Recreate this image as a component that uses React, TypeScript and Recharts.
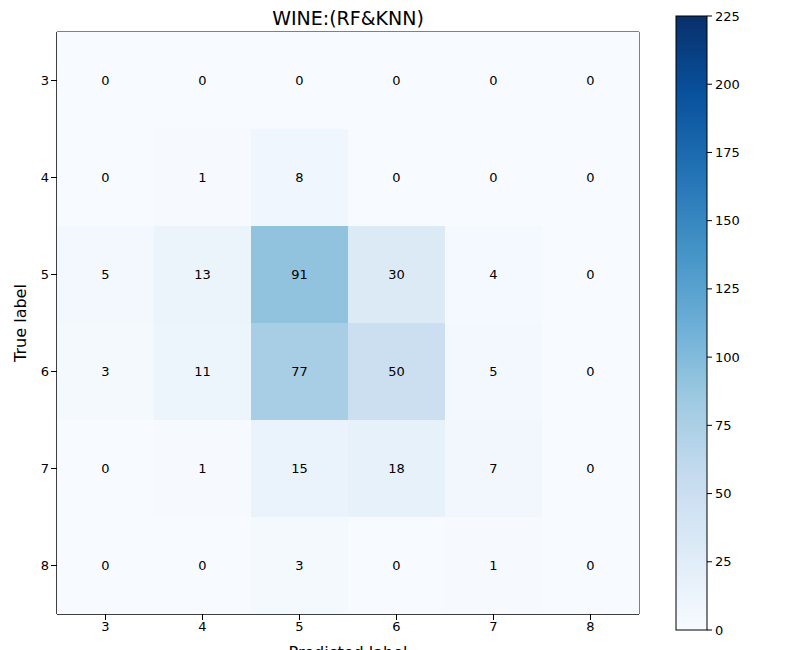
import React from 'react';
import { ScatterChart, Scatter, XAxis, YAxis, ReferenceArea } from 'recharts';

const labels = [3, 4, 5, 6, 7, 8];
const matrix = [
  [0, 0, 0, 0, 0, 0],
  [0, 1, 8, 0, 0, 0],
  [5, 13, 91, 30, 4, 0],
  [3, 11, 77, 50, 5, 0],
  [0, 1, 15, 18, 7, 0],
  [0, 0, 3, 0, 1, 0],
];
const vmax = 225;
const cbTicks = [0, 25, 50, 75, 100, 125, 150, 175, 200, 225];

const stops = ['#f7fbff', '#deebf7', '#c6dbef', '#9ecae1', '#6baed6', '#4292c6', '#2171b5', '#08519c', '#08306b'];
function hex(h: string) { return [1, 3, 5].map(i => parseInt(h.substr(i, 2), 16)); }
function blues(t: number) {
  t = Math.max(0, Math.min(1, t));
  const p = t * 8; const i = Math.min(7, Math.floor(p)); const f = p - i;
  const a = hex(stops[i]), b = hex(stops[i + 1]);
  return `rgb(${a.map((v, k) => Math.round(v + (b[k] - v) * f)).join(',')})`;
}

const data = matrix.flatMap((row, r) => row.map((v, c) => ({ x: labels[c], y: labels[r], v })));

const W = 792, H = 642;
const M = { top: 24, right: 161, bottom: 6, left: 19 };
const YW = 30, XH = 30;
const plotW = W - M.left - M.right - YW;
const plotH = H - M.top - M.bottom - XH;
const cw = plotW / labels.length, ch = plotH / labels.length;

const Cell = (p: any) => (
  <g>
    <rect x={p.cx - cw / 2} y={p.cy - ch / 2} width={cw} height={ch} fill={blues(p.payload.v / vmax)} />
    <text x={p.cx} y={p.cy} textAnchor="middle" dominantBaseline="central" fontSize={13} fill="#000">{p.payload.v}</text>
  </g>
);

export default function App() {
  const font = 'DejaVu Sans';
  const cbTop = 16, cbBot = 630, cbH = cbBot - cbTop;
  return (
    <div style={{ position: 'relative', width: W, height: H, fontFamily: font }}>
      <div style={{ position: 'absolute', left: 0, top: -1, width: 680, textAlign: 'center', fontSize: 19 }}>WINE:(RF&amp;KNN)</div>
      <ScatterChart width={W} height={H} margin={M}>
        <XAxis type="number" dataKey="x" domain={[2.5, 8.5]} ticks={labels} height={XH} tick={{ fill: '#000', fontSize: 13, fontFamily: font }} tickLine={{ stroke: '#000' }} axisLine={{ stroke: '#000' }}
          label={{ value: 'Predicted label', position: 'insideBottom', offset: -14, fontSize: 16, fill: '#000', fontFamily: font }} />
        <YAxis type="number" dataKey="y" domain={[2.5, 8.5]} ticks={labels} reversed width={YW} tick={{ fill: '#000', fontSize: 13, fontFamily: font }} tickLine={{ stroke: '#000' }} axisLine={{ stroke: '#000' }}
          label={{ value: 'True label', angle: -90, position: 'insideLeft', offset: -7, fontSize: 16, fill: '#000', fontFamily: font, style: { textAnchor: 'middle' } }} />
        <Scatter data={data} shape={Cell} isAnimationActive={false} />
        <ReferenceArea x1={2.5} x2={8.5} y1={2.5} y2={8.5} fill="none" fillOpacity={0} stroke="#000" strokeOpacity={1} strokeWidth={1} />
      </ScatterChart>
      <svg style={{ position: 'absolute', left: 0, top: 0 }} width={W} height={H}>
        <defs>
          <linearGradient id="cb" x1="0" y1="1" x2="0" y2="0">
            {stops.map((s, i) => <stop key={i} offset={i / 8} stopColor={s} />)}
          </linearGradient>
        </defs>
        <rect x={668} y={cbTop - 8} width={31} height={cbH} fill="url(#cb)" stroke="#000" />
        {cbTicks.map(t => {
          const y = cbBot - 8 - (t / vmax) * cbH;
          return (
            <g key={t}>
              <line x1={699} x2={704} y1={y} y2={y} stroke="#000" />
              <text x={707} y={y} dominantBaseline="central" fontSize={13} fontFamily={font}>{t}</text>
            </g>
          );
        })}
      </svg>
    </div>
  );
}
